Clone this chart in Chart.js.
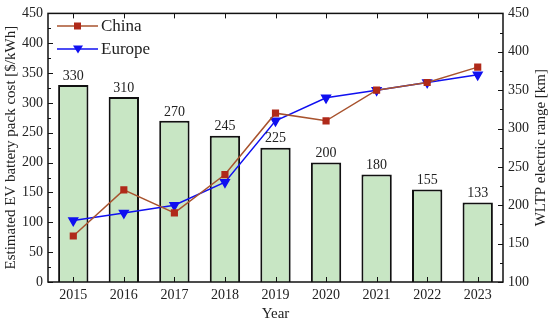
<!DOCTYPE html>
<html><head><meta charset="utf-8">
<script src="https://cdn.jsdelivr.net/npm/chart.js@4"></script>
<style>html,body{margin:0;padding:0;background:#fff}#wrap{width:550px;height:324px}</style>
</head><body><div id="wrap"><canvas id="c" width="550" height="324"></canvas></div>
<script>
const years = ['2015','2016','2017','2018','2019','2020','2021','2022','2023'];
const packCost = [330, 310, 270, 245, 225, 200, 180, 155, 133];
const rangeChina = [160, 220, 190, 240, 320, 310, 350, 360, 380];
const rangeEurope = [180, 190, 200, 230, 310, 340, 350, 360, 370];
const seriesNames = ['China', 'Europe'];
const rightTitle = 'WLTP electric range [km]';
const xTitle = 'Year';
const FONT = '"Liberation Serif", "Times New Roman", serif';
const chinaLine = '#a8532e', chinaMarker = '#b02a1a', euroColor = '#1010f0';

const framePlugin = {
  id: 'frame',
  afterDatasetsDraw(chart) {
    const ctx = chart.ctx;
    const meta = chart.getDatasetMeta(0);
    ctx.save();
    ctx.fillStyle = '#222';
    ctx.font = '14px ' + FONT;
    ctx.textAlign = 'center';
    ctx.textBaseline = 'bottom';
    meta.data.forEach((b, i) => ctx.fillText(String(packCost[i]), b.x, b.y - 2));
    ctx.restore();
  },
  afterDraw(chart) {
    const ctx = chart.ctx, a = chart.chartArea;
    const x = chart.scales.x, y = chart.scales.y, y1 = chart.scales.y1;
    ctx.save();
    ctx.strokeStyle = '#111';
    ctx.lineWidth = 1.5;
    ctx.strokeRect(a.left, a.top, a.right - a.left, a.bottom - a.top);
    ctx.lineWidth = 1;
    ctx.beginPath();
    years.forEach((_, i) => {
      const px = Math.round(x.getPixelForValue(i)) + 0.5;
      ctx.moveTo(px, a.bottom); ctx.lineTo(px, a.bottom - 5);
      ctx.moveTo(px, a.top); ctx.lineTo(px, a.top + 5);
    });
    for (let v = 0; v <= 450; v += 25) {
      const py = Math.round(y.getPixelForValue(v)) + 0.5;
      const len = v % 50 === 0 ? 5 : 3;
      ctx.moveTo(a.left, py); ctx.lineTo(a.left + len, py);
    }
    for (let v = 100; v <= 450; v += 25) {
      const py = Math.round(y1.getPixelForValue(v)) + 0.5;
      const len = v % 50 === 0 ? 5 : 3;
      ctx.moveTo(a.right, py); ctx.lineTo(a.right - len, py);
    }
    ctx.stroke();
    ctx.fillStyle = '#222';
    ctx.font = '15px ' + FONT;
    ctx.textAlign = 'center';
    ctx.textBaseline = 'middle';
    // x axis title
    ctx.fillText(xTitle, (a.left + a.right) / 2, 314);
    // right axis title (reads bottom to top)
    ctx.save();
    ctx.translate(541, (a.top + a.bottom) / 2);
    ctx.rotate(-Math.PI / 2);
    ctx.fillText(rightTitle, 0, 0);
    ctx.restore();
    // legend
    const items = [
      {name: seriesNames[0], line: chinaLine, marker: chinaMarker, shape: 'sq', y: 26},
      {name: seriesNames[1], line: euroColor, marker: euroColor, shape: 'tri', y: 49}
    ];
    ctx.font = '17px ' + FONT;
    ctx.textBaseline = 'middle';
    ctx.textAlign = 'left';
    items.forEach(it => {
      ctx.strokeStyle = it.line; ctx.lineWidth = 1.5;
      ctx.beginPath(); ctx.moveTo(57, it.y); ctx.lineTo(98, it.y); ctx.stroke();
      ctx.fillStyle = it.marker;
      if (it.shape === 'sq') ctx.fillRect(74, it.y - 3.5, 7, 7);
      else { ctx.beginPath(); ctx.moveTo(73, it.y - 3.5); ctx.lineTo(83, it.y - 3.5); ctx.lineTo(78, it.y + 4.5); ctx.closePath(); ctx.fill(); }
      ctx.fillStyle = '#222';
      ctx.fillText(it.name, 101, it.y + 1);
    });
    ctx.restore();
  }
};

new Chart(document.getElementById('c'), {
  data: {
    labels: years,
    datasets: [
      {type: 'bar', label: 'Pack cost', data: packCost, yAxisID: 'y', order: 3,
       backgroundColor: '#c8e6c4', borderColor: '#111', borderWidth: 2,
       barPercentage: 0.6, categoryPercentage: 1.0},
      {type: 'line', label: seriesNames[0], data: rangeChina, yAxisID: 'y1', order: 1,
       borderColor: chinaLine, borderWidth: 1.5, pointStyle: 'rect', pointRadius: 4,
       pointBackgroundColor: chinaMarker, pointBorderColor: chinaMarker, tension: 0},
      {type: 'line', label: seriesNames[1], data: rangeEurope, yAxisID: 'y1', order: 2,
       borderColor: euroColor, borderWidth: 1.5, pointStyle: 'triangle', pointRotation: 180, pointRadius: 5,
       pointBackgroundColor: euroColor, pointBorderColor: euroColor, tension: 0}
    ]
  },
  options: {
    responsive: false, animation: false, devicePixelRatio: 1,
    layout: {padding: {top: 9, left: 0, right: 0, bottom: 0}},
    plugins: {legend: {display: false}, tooltip: {enabled: false}},
    scales: {
      x: {
        offset: true,
        grid: {display: false, drawTicks: false},
        border: {display: false},
        ticks: {color: '#222', font: {family: FONT, size: 14}, padding: 5},
        afterFit: s => { s.height = 42; }
      },
      y: {
        position: 'left', min: 0, max: 450,
        grid: {display: false, drawTicks: false},
        border: {display: false},
        ticks: {stepSize: 50, color: '#222', font: {family: FONT, size: 14}, padding: 5},
        title: {display: true, text: 'Estimated EV battery pack cost [$/kWh]', color: '#222', font: {family: FONT, size: 15}, padding: {top: 2, bottom: 0}},
        afterFit: s => { s.width = 48; }
      },
      y1: {
        position: 'right', min: 100, max: 450,
        grid: {display: false, drawTicks: false},
        border: {display: false},
        ticks: {stepSize: 50, color: '#222', font: {family: FONT, size: 14}, padding: 5},
        afterFit: s => { s.width = 47; }
      }
    }
  },
  plugins: [framePlugin]
});
</script></body></html>
